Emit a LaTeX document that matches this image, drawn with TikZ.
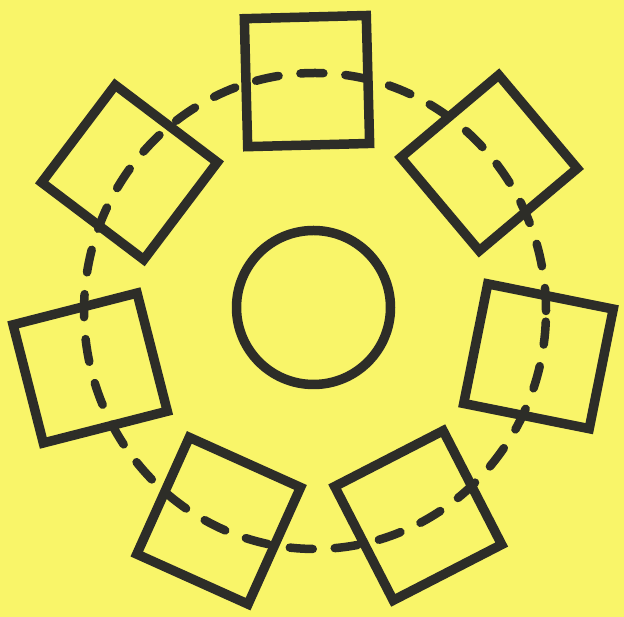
\documentclass[tikz,border=0pt]{standalone}
\usetikzlibrary{positioning}
\definecolor{paper}{RGB}{249,245,105}
\definecolor{ink}{RGB}{45,45,40}

\begin{document}
\begin{tikzpicture}[x=1pt, y=1pt,
  seat/.style={draw=ink, line width=9.5pt, minimum width=122pt, minimum height=128pt, inner sep=0pt},
  ring/.style={draw=ink, line width=8.5pt, line cap=round, dash pattern=on 23pt off 22pt}]
\fill[paper] (0,0) rectangle (624,617);
\coordinate (mid) at (313,306);
\draw[ring] (315,306) ellipse [x radius=231, y radius=238];
\node[circle, draw=ink, line width=9.5pt, minimum size=154pt, inner sep=0pt] (table) at (313.5,309.5) {};
\foreach \k in {0,...,6} {
  \pgfmathsetmacro{\ang}{91.5-\k*360/7}
  \node[seat, rotate=\ang-90] (seat\k) at ([shift={(\ang:230)}]mid) {};
}
\end{tikzpicture}
\end{document}
